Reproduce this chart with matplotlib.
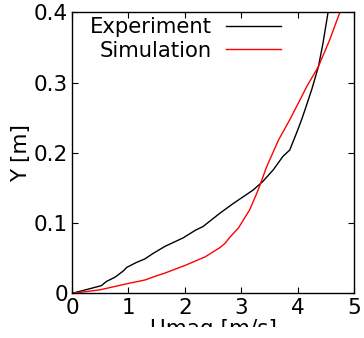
import matplotlib
matplotlib.use("Agg")
import matplotlib.pyplot as plt
from matplotlib.patches import Rectangle
from matplotlib.ticker import FixedLocator, FixedFormatter

# Velocity profiles: magnitude (m/s) against height (m)
exp_u = [0.0, 0.52, 0.61, 0.76, 0.91, 0.97, 1.14, 1.29, 1.44, 1.65, 1.97,
         2.19, 2.32, 2.51, 2.62, 2.86, 3.21, 3.38, 3.57, 3.74, 3.86, 3.98,
         4.07, 4.13, 4.25, 4.37, 4.45, 4.54]
exp_y = [0.0, 0.011, 0.017, 0.023, 0.032, 0.037, 0.044, 0.049, 0.057, 0.067,
         0.079, 0.090, 0.095, 0.107, 0.114, 0.128, 0.147, 0.159, 0.176, 0.195,
         0.204, 0.228, 0.247, 0.261, 0.290, 0.323, 0.356, 0.400]

sim_u = [0.0, 0.49, 0.99, 1.29, 1.50, 1.65, 2.01, 2.36, 2.62, 2.71, 2.80,
         2.95, 3.15, 3.30, 3.45, 3.66, 3.86, 4.04, 4.16, 4.37, 4.57, 4.75]
sim_y = [0.0, 0.005, 0.014, 0.019, 0.025, 0.029, 0.040, 0.052, 0.065, 0.071,
         0.080, 0.093, 0.119, 0.147, 0.180, 0.218, 0.247, 0.275, 0.294, 0.323,
         0.361, 0.400]

x_ticks = [0, 1, 2, 3, 4, 5]
x_tick_labels = ["0", "1", "2", "3", "4", "5"]
y_ticks = [0.0, 0.1, 0.2, 0.3, 0.4]
y_tick_labels = ["0", "0.1", "0.2", "0.3", "0.4"]

fig = plt.figure(figsize=(3.64, 3.38), dpi=100)
ax = fig.add_axes([0.198, 0.132, 0.7745, 0.8316])

ax.plot(exp_u, exp_y, color="black", lw=1.0, label="Experiment")
ax.plot(sim_u, sim_y, color="red", lw=1.0, label="Simulation")

ax.set_xlim(0, 5)
ax.set_ylim(0, 0.4)
ax.xaxis.set_major_locator(FixedLocator(x_ticks))
ax.xaxis.set_major_formatter(FixedFormatter(x_tick_labels))
ax.yaxis.set_major_locator(FixedLocator(y_ticks))
ax.yaxis.set_major_formatter(FixedFormatter(y_tick_labels))
ax.tick_params(direction="in", top=True, right=True, length=4, width=0.8,
               labelsize=15.5, pad=3)
for s in ax.spines.values():
    s.set_linewidth(1.0)

ax.set_xlabel("Umag [m/s]", fontsize=15.5, labelpad=1)
ax.set_ylabel("Y [m]", fontsize=15.5, labelpad=2)

leg = ax.legend(loc="upper left", frameon=False, markerfirst=False,
                fontsize=15.2, handlelength=2.6, handletextpad=0.7,
                borderaxespad=0.0, labelspacing=0.15,
                bbox_to_anchor=(0.032, 1.012))
for t in leg.get_texts():
    t.set_ha("right")

# the saved canvas ends a little above its bottom edge
fig.add_artist(Rectangle((0, 0), 1, 11 / 338, transform=fig.transFigure,
                         facecolor="white", edgecolor="none", zorder=10))

fig.savefig("out.png", dpi=100)
